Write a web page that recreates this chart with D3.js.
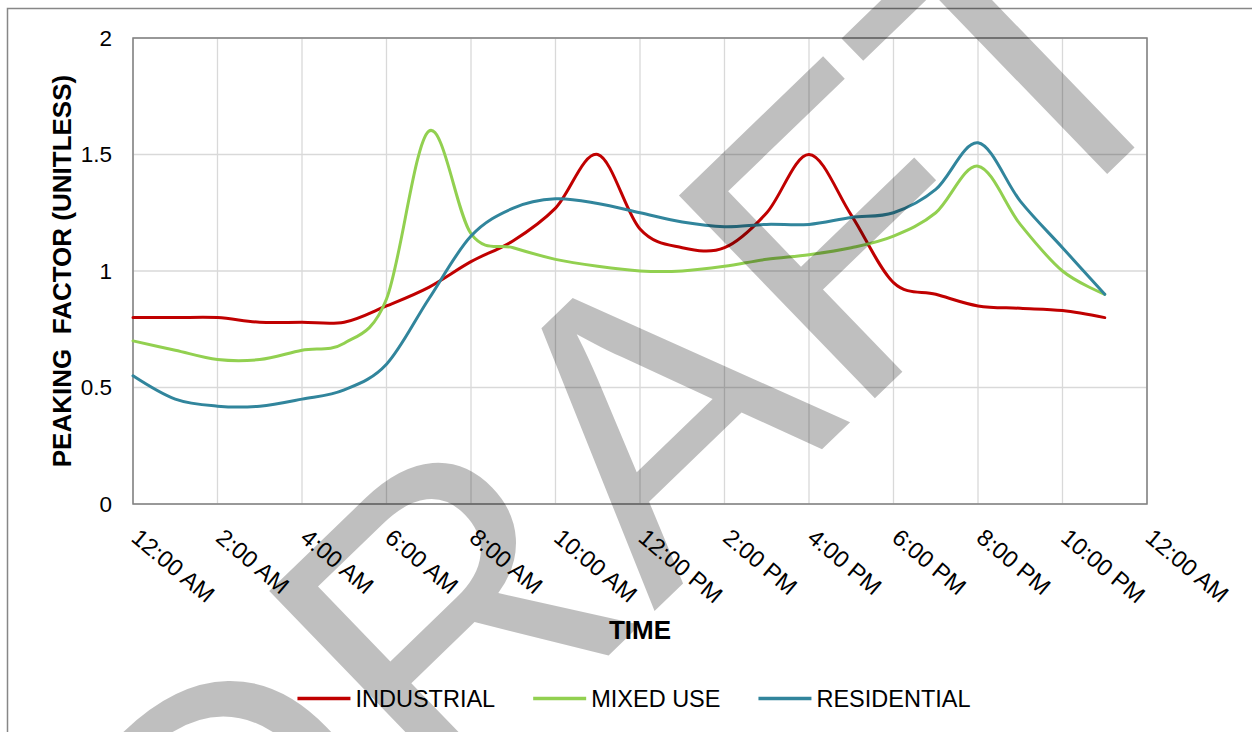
<!DOCTYPE html>
<html><head><meta charset="utf-8">
<script src="https://cdn.jsdelivr.net/npm/d3@7"></script>
<style>
body{margin:0;background:#fff;}
svg{display:block;font-family:"Liberation Sans",Arial,sans-serif;}
</style>
</head><body>
<svg id="c" width="1252" height="732"></svg>
<script>
// ---- data ----
const hours = [0,1,2,3,4,5,6,7,8,9,10,11,12,13,14,15,16,17,18,19,20,21,22,23];
const industrial  = [0.80,0.80,0.80,0.78,0.78,0.78,0.85,0.93,1.04,1.13,1.27,1.50,1.18,1.10,1.10,1.25,1.50,1.24,0.95,0.90,0.85,0.84,0.83,0.80];
const mixedUse    = [0.70,0.66,0.62,0.62,0.66,0.69,0.88,1.60,1.16,1.10,1.05,1.02,1.00,1.00,1.02,1.05,1.07,1.10,1.15,1.25,1.45,1.20,1.00,0.90];
const residential = [0.55,0.45,0.42,0.42,0.45,0.49,0.60,0.88,1.15,1.27,1.31,1.29,1.25,1.21,1.19,1.20,1.20,1.23,1.25,1.35,1.55,1.30,1.10,0.90];
const seriesNames = ["INDUSTRIAL","MIXED USE","RESIDENTIAL"];
const seriesColors = ["#C00000","#92D050","#31859C"];
const tickHours = [0,2,4,6,8,10,12,14,16,18,20,22,24];
const tickLabels = ["12:00 AM","2:00 AM","4:00 AM","6:00 AM","8:00 AM","10:00 AM","12:00 PM","2:00 PM","4:00 PM","6:00 PM","8:00 PM","10:00 PM","12:00 AM"];
const yTicks = [0,0.5,1,1.5,2];
const yTickLabels = ["0","0.5","1","1.5","2"];
const xTitle = "TIME";
const yTitle = "PEAKING  FACTOR (UNITLESS)";
const watermark = "DRAFT";

// ---- drawing ----
const svg = d3.select("#c");
const L=133, R=1147, T=38, B=504;
const x = d3.scaleLinear().domain([0,24]).range([L,R]);
const y = d3.scaleLinear().domain([0,2]).range([B,T]);

svg.append("rect").attr("x",7.5).attr("y",8.5).attr("width",1400).attr("height",900)
  .attr("fill","#fff").attr("stroke","#878787").attr("stroke-width",1.5);

const grid = svg.append("g").attr("stroke","#d9d9d9").attr("stroke-width",1.3);
grid.selectAll("line.v").data(tickHours).join("line").attr("class","v")
  .attr("x1",d=>x(d)).attr("x2",d=>x(d)).attr("y1",T).attr("y2",B);
grid.selectAll("line.h").data(yTicks).join("line").attr("class","h")
  .attr("x1",L).attr("x2",R).attr("y1",d=>y(d)).attr("y2",d=>y(d));

svg.append("rect").attr("x",L).attr("y",T).attr("width",R-L).attr("height",B-T)
  .attr("fill","none").attr("stroke","#808080").attr("stroke-width",1.5);

// y tick labels
svg.append("g").selectAll("text").data(yTicks).join("text")
  .attr("x",112).attr("y",d=>y(d)).attr("dy","0.35em").attr("text-anchor","end")
  .attr("font-size",22.5).attr("fill","#000")
  .text((d,i)=>yTickLabels[i]);

// x tick labels
svg.append("g").selectAll("text").data(tickHours).join("text")
  .attr("transform",d=>`translate(${x(d)-3},540) rotate(40)`)
  .attr("font-size",23.5).attr("fill","#000")
  .text((d,i)=>tickLabels[i]);

// series
const allSeries = [industrial, mixedUse, residential];
const line = d3.line().x((d,i)=>x(hours[i])).y(d=>y(d)).curve(d3.curveCatmullRom.alpha(0));
svg.append("g").selectAll("path").data(allSeries).join("path")
  .attr("d",d=>line(d)).attr("fill","none")
  .attr("stroke",(d,i)=>seriesColors[i]).attr("stroke-width",3)
  .attr("stroke-linejoin","round").attr("stroke-linecap","round");

// titles
svg.append("text").attr("x",640).attr("y",639).attr("text-anchor","middle")
  .attr("font-size",26).attr("font-weight","bold").text(xTitle);
svg.append("text").attr("transform","translate(71,271) rotate(-90)").attr("text-anchor","middle")
  .attr("font-size",26).attr("font-weight","bold").style("white-space","pre").text(yTitle);

// legend
const lg = svg.append("g");
let cx = 0;
seriesNames.forEach((name,i)=>{
  const g = lg.append("g");
  g.append("line").attr("x1",cx).attr("x2",cx+53).attr("y1",698.5).attr("y2",698.5)
    .attr("stroke",seriesColors[i]).attr("stroke-width",3.3);
  const t = g.append("text").attr("x",cx+58).attr("y",707).attr("font-size",23.5).text(name);
  const w = t.node().getComputedTextLength();
  cx += 58 + w + 38;
});
const totalW = cx - 38;
lg.attr("transform",`translate(${634 - totalW/2},0)`);

// watermark
svg.append("text").attr("transform","translate(228,1023) rotate(-44)")
  .attr("font-size",410).style("font-kerning","none")
  .attr("fill","#000").attr("fill-opacity",0.25).text(watermark);
</script>
</body></html>
